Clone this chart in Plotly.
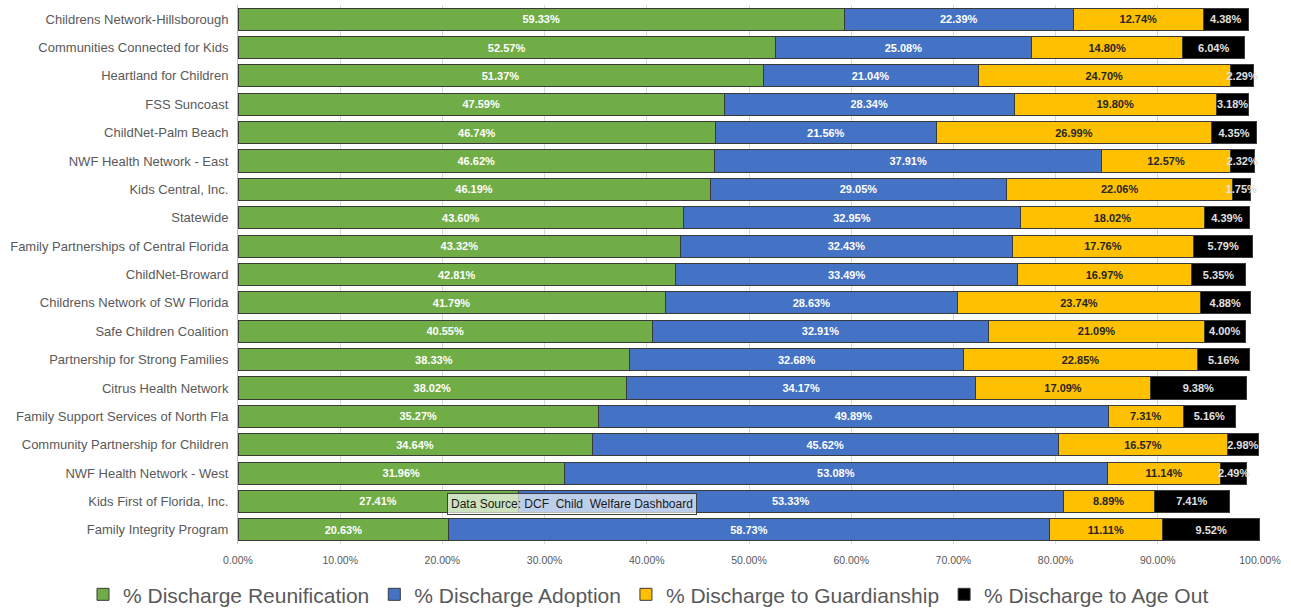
import plotly.graph_objects as go

categories = [
    "Childrens Network-Hillsborough", "Communities Connected for Kids", "Heartland for Children",
    "FSS Suncoast", "ChildNet-Palm Beach", "NWF Health Network - East", "Kids Central, Inc.",
    "Statewide", "Family Partnerships of Central Florida", "ChildNet-Broward",
    "Childrens Network of SW Florida", "Safe Children Coalition", "Partnership for Strong Families",
    "Citrus Health Network", "Family Support Services of North Fla", "Community Partnership for Children",
    "NWF Health Network - West", "Kids First of Florida, Inc.", "Family Integrity Program",
]
reunification = [59.33, 52.57, 51.37, 47.59, 46.74, 46.62, 46.19, 43.60, 43.32, 42.81,
                 41.79, 40.55, 38.33, 38.02, 35.27, 34.64, 31.96, 27.41, 20.63]
adoption = [22.39, 25.08, 21.04, 28.34, 21.56, 37.91, 29.05, 32.95, 32.43, 33.49,
            28.63, 32.91, 32.68, 34.17, 49.89, 45.62, 53.08, 53.33, 58.73]
guardianship = [12.74, 14.80, 24.70, 19.80, 26.99, 12.57, 22.06, 18.02, 17.76, 16.97,
                23.74, 21.09, 22.85, 17.09, 7.31, 16.57, 11.14, 8.89, 11.11]
age_out = [4.38, 6.04, 2.29, 3.18, 4.35, 2.32, 1.75, 4.39, 5.79, 5.35,
           4.88, 4.00, 5.16, 9.38, 5.16, 2.98, 2.49, 7.41, 9.52]
series_names = ["% Discharge Reunification", "% Discharge Adoption",
                "% Discharge to Guardianship", "% Discharge to Age Out"]
tick_vals = [0, 10, 20, 30, 40, 50, 60, 70, 80, 90, 100]
tick_text = ["0.00%", "10.00%", "20.00%", "30.00%", "40.00%", "50.00%",
             "60.00%", "70.00%", "80.00%", "90.00%", "100.00%"]

colors = ["#70AD47", "#4472C4", "#FFC000", "#000000"]
text_colors = ["#FFFFFF", "#FFFFFF", "#262626", "#E0E0E0"]

fig = go.Figure()
for name, vals, col, tcol in zip(series_names, [reunification, adoption, guardianship, age_out],
                                 colors, text_colors):
    fig.add_trace(go.Bar(
        y=categories, x=vals, name=name, orientation="h",
        marker=dict(color=col, line=dict(color="#3a3a3a", width=1)),
        text=[f"{v:.2f}%" for v in vals], textposition="inside", insidetextanchor="middle",
        textangle=0,
        textfont=dict(color=tcol, size=11, family="Liberation Sans", weight="bold"),
        constraintext="none",
        hoverinfo="skip",
    ))

fig.update_layout(
    barmode="stack", bargap=0.22,
    width=1291, height=609,
    margin=dict(l=238, r=31, t=5, b=65, autoexpand=False),
    paper_bgcolor="white", plot_bgcolor="white",
    font=dict(family="Liberation Sans", color="#595959"),
    uniformtext=dict(minsize=11, mode="show"),
    xaxis=dict(range=[0, 100], tickvals=tick_vals, ticktext=tick_text,
               showgrid=True, gridcolor="#D9D9D9", gridwidth=1, zeroline=False,
               tickfont=dict(size=10.5, color="#595959"), automargin=False,
               ticklabelstandoff=8),
    yaxis=dict(autorange="reversed", showline=True, linecolor="#BFBFBF", ticks="",
               tickfont=dict(size=13, color="#595959"), ticklabelstandoff=6,
               automargin=False),
    legend=dict(orientation="h", x=(83 - 238) / 1022, xanchor="left", y=-0.094, yanchor="middle",
                font=dict(size=21, color="#595959", family="Liberation Sans"),
                traceorder="normal", itemwidth=30),
    showlegend=True,
)
fig.add_annotation(
    text="Data Source: DCF  Child  Welfare Dashboard", xref="paper", yref="paper",
    x=(447 - 238) / 1022, y=(544 - 504) / 539, xanchor="left", yanchor="middle",
    showarrow=False, font=dict(size=12, color="#1a1a1a", family="Liberation Sans"),
    bgcolor="rgba(255,255,255,0.65)", bordercolor="#404040", borderwidth=1, borderpad=3,
)
fig.write_html("out.html", config={"displayModeBar": False},
               post_script="document.body.style.margin='0';")
